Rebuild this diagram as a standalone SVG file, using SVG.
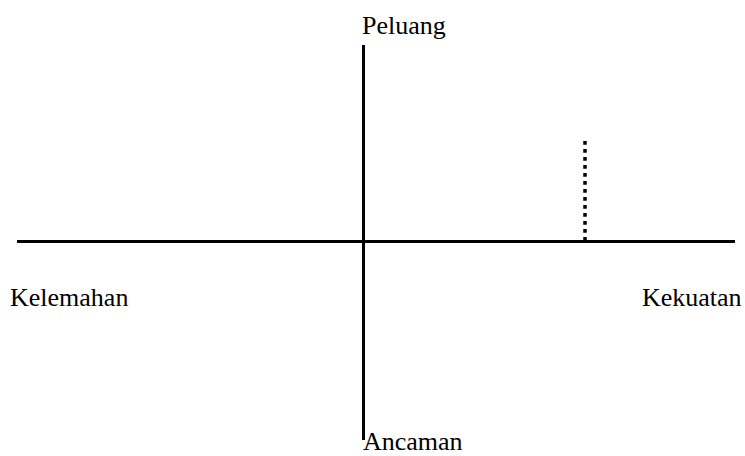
<svg xmlns="http://www.w3.org/2000/svg" width="745" height="456" viewBox="0 0 745 456">
<style>
.lbl{font-family:"Liberation Serif","Times New Roman",serif;font-size:26px;fill:#000}
.ax{stroke:#000;stroke-width:3;fill:none}
.dot{stroke:#000;stroke-width:3.5;stroke-dasharray:3.7 4.3;fill:none}
</style>
<rect width="745" height="456" fill="#fff"/>
<g id="connectors">
<line id="h-axis" class="ax" x1="17" y1="241.5" x2="735" y2="241.5"/>
<line id="v-axis" class="ax" x1="363.5" y1="45" x2="363.5" y2="440"/>
<line id="marker" class="dot" x1="585" y1="141" x2="585" y2="240"/>
</g>
<g id="peluang"><text class="lbl" x="362" y="34">Peluang</text></g>
<g id="ancaman"><text class="lbl" x="363" y="450">Ancaman</text></g>
<g id="kelemahan"><text class="lbl" x="10" y="306">Kelemahan</text></g>
<g id="kekuatan"><text class="lbl" x="642" y="306">Kekuatan</text></g>
</svg>
